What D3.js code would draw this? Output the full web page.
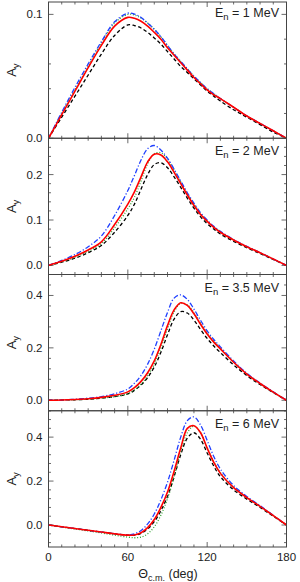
<!DOCTYPE html>
<html>
<head>
<meta charset="utf-8">
<script src="https://d3js.org/d3.v7.min.js"></script>
<style>
  body { margin: 0; background: #fff; }
  text { font-family: "Liberation Sans", Arial, sans-serif; fill: #222; }
</style>
</head>
<body>
<div id="chart"></div>
<script>
// scattering angle (deg)
var theta = [0,10,20,30,40,50,60,65,70,75,80,85,90,95,100,105,110,115,120,125,130,140,150,160,170,180];

// En = 1 MeV
var e1Black = [0,0.017,0.034,0.051,0.068,0.083,0.0915,0.091,0.089,0.0855,0.081,0.076,0.070,0.064,0.058,0.053,0.048,0.043,0.038,0.034,0.030,0.023,0.017,0.011,0.005,0];
var e1Green = [0,0.020,0.039,0.058,0.077,0.093,0.100,0.0995,0.097,0.093,0.088,0.082,0.075,0.068,0.062,0.056,0.050,0.045,0.040,0.036,0.032,0.025,0.018,0.012,0.006,0];
var e1Blue  = [0,0.021,0.041,0.060,0.078,0.094,0.101,0.1003,0.0975,0.093,0.088,0.082,0.075,0.068,0.062,0.056,0.050,0.045,0.040,0.036,0.032,0.025,0.018,0.012,0.006,0];
var e1Red   = [0,0.019,0.038,0.057,0.075,0.0905,0.0976,0.0968,0.0945,0.0905,0.0855,0.080,0.073,0.067,0.061,0.055,0.049,0.044,0.039,0.035,0.032,0.025,0.018,0.012,0.006,0];

// En = 2 MeV
var e2Black = [0,0.007,0.016,0.028,0.044,0.073,0.110,0.135,0.168,0.200,0.222,0.226,0.215,0.195,0.172,0.148,0.126,0.107,0.092,0.080,0.069,0.053,0.039,0.026,0.013,0];
var e2Green = [0,0.008,0.018,0.031,0.048,0.083,0.125,0.150,0.186,0.224,0.246,0.248,0.234,0.210,0.184,0.158,0.135,0.114,0.098,0.085,0.074,0.056,0.041,0.028,0.014,0];
var e2Blue  = [0,0.011,0.024,0.041,0.065,0.110,0.165,0.198,0.232,0.257,0.264,0.254,0.236,0.212,0.186,0.160,0.137,0.116,0.100,0.086,0.075,0.057,0.042,0.028,0.014,0];
var e2Red   = [0,0.009,0.020,0.034,0.052,0.090,0.135,0.162,0.195,0.228,0.245,0.243,0.228,0.205,0.180,0.155,0.132,0.112,0.097,0.084,0.073,0.056,0.041,0.028,0.014,0];

// En = 3.5 MeV
var e3Black = [0,0.001,0.002,0.004,0.008,0.014,0.024,0.038,0.058,0.087,0.127,0.183,0.250,0.310,0.338,0.333,0.306,0.270,0.236,0.207,0.182,0.135,0.094,0.060,0.029,0];
var e3Green = [0,0.001,0.002,0.004,0.008,0.014,0.025,0.040,0.062,0.094,0.138,0.200,0.273,0.338,0.370,0.364,0.334,0.294,0.257,0.225,0.198,0.146,0.101,0.064,0.031,0];
var e3Blue  = [0,0.001,0.004,0.008,0.014,0.025,0.043,0.065,0.095,0.138,0.195,0.265,0.335,0.390,0.402,0.385,0.348,0.305,0.265,0.232,0.204,0.150,0.103,0.066,0.032,0];
var e3Red   = [0,0.001,0.003,0.006,0.011,0.019,0.032,0.048,0.072,0.105,0.150,0.213,0.285,0.345,0.372,0.362,0.330,0.290,0.253,0.222,0.196,0.145,0.100,0.064,0.031,0];

// En = 6 MeV
var e4Black = [0,-0.008,-0.016,-0.024,-0.032,-0.040,-0.046,-0.046,-0.038,-0.018,0.015,0.065,0.130,0.220,0.320,0.395,0.420,0.390,0.328,0.268,0.220,0.160,0.118,0.080,0.040,0];
var e4Green = [0,-0.009,-0.018,-0.027,-0.036,-0.046,-0.055,-0.058,-0.055,-0.040,-0.008,0.045,0.120,0.220,0.335,0.420,0.450,0.420,0.352,0.288,0.238,0.172,0.126,0.086,0.043,0];
var e4Blue  = [0,-0.008,-0.016,-0.024,-0.032,-0.040,-0.045,-0.040,-0.025,0.005,0.050,0.115,0.195,0.295,0.400,0.475,0.492,0.455,0.385,0.312,0.255,0.180,0.130,0.088,0.044,0];
var e4Red   = [0,-0.008,-0.016,-0.024,-0.032,-0.040,-0.046,-0.045,-0.035,-0.012,0.025,0.080,0.150,0.245,0.350,0.440,0.452,0.420,0.350,0.285,0.235,0.170,0.125,0.085,0.043,0];

var energyLabels = ["1", "2", "3.5", "6"];
var yDomains = [[0, 0.11], [-0.02, 0.28], [-0.04, 0.48], [-0.1, 0.52]];
var yMajor = [[0, 0.1], [0, 0.1, 0.2], [0, 0.2, 0.4], [0, 0.2, 0.4]];
var yMinorStep = [0.02, 0.02, 0.04, 0.04];
var xMajor = [0, 60, 120, 180];

var panels = [
  {black: e1Black, green: e1Green, blue: e1Blue, red: e1Red},
  {black: e2Black, green: e2Green, blue: e2Blue, red: e2Red},
  {black: e3Black, green: e3Green, blue: e3Blue, red: e3Red},
  {black: e4Black, green: e4Green, blue: e4Blue, red: e4Red}
];

var W = 300, H = 582;
var left = 48.5, right = 286.5, top0 = 2, bottom = 547;
var ph = (bottom - top0) / 4;

var svg = d3.select("#chart").append("svg")
  .attr("width", W).attr("height", H);

var x = d3.scaleLinear().domain([0, 180]).range([left, right]);

var styles = [
  {key: "black", color: "#000", width: 1.3, dash: "3.5,2.5"},
  {key: "green", color: "#2ca02c", width: 1.3, dash: "1,1.8"},
  {key: "blue",  color: "#1f3fff", width: 1.3, dash: "5,2,1.2,2"},
  {key: "red",   color: "#ff0000", width: 1.6, dash: null}
];

panels.forEach(function(p, i) {
  var y0 = top0 + i * ph, y1 = y0 + ph;
  var y = d3.scaleLinear().domain(yDomains[i]).range([y1, y0]);
  var g = svg.append("g");

  var clipId = "clip" + i;
  g.append("clipPath").attr("id", clipId)
    .append("rect").attr("x", left).attr("y", y0).attr("width", right - left).attr("height", ph);

  // x ticks, inward on top and bottom
  var xMinor = d3.range(0, 181, 10);
  xMinor.forEach(function(v) {
    var len = xMajor.indexOf(v) >= 0 ? 5 : 2.5;
    g.append("line").attr("x1", x(v)).attr("x2", x(v)).attr("y1", y1).attr("y2", y1 - len)
      .attr("stroke", "#444").attr("stroke-width", 0.8);
    g.append("line").attr("x1", x(v)).attr("x2", x(v)).attr("y1", y0).attr("y2", y0 + len)
      .attr("stroke", "#444").attr("stroke-width", 0.8);
  });

  // y ticks, inward on left and right
  var d = yDomains[i];
  var step = yMinorStep[i];
  var yMinor = d3.range(Math.ceil(d[0] / step - 1e-6) * step, d[1] + 1e-9, step);
  yMinor.forEach(function(v) {
    var isMajor = yMajor[i].some(function(m) { return Math.abs(m - v) < 1e-6; });
    var len = isMajor ? 5 : 2.5;
    g.append("line").attr("x1", left).attr("x2", left + len).attr("y1", y(v)).attr("y2", y(v))
      .attr("stroke", "#444").attr("stroke-width", 0.8);
    g.append("line").attr("x1", right).attr("x2", right - len).attr("y1", y(v)).attr("y2", y(v))
      .attr("stroke", "#444").attr("stroke-width", 0.8);
  });

  // y tick labels
  g.selectAll(".ylab").data(yMajor[i]).enter().append("text")
    .attr("x", left - 6).attr("y", function(v) { return y(v) + 4; })
    .attr("text-anchor", "end").attr("font-size", "11.5px")
    .text(d3.format(".1f"));

  // curves
  var line = d3.line()
    .x(function(v, j) { return x(theta[j]); })
    .y(function(v) { return y(v); })
    .curve(d3.curveCatmullRom.alpha(0.5));

  styles.forEach(function(s) {
    g.append("path")
      .attr("d", line(p[s.key]))
      .attr("fill", "none")
      .attr("stroke", s.color)
      .attr("stroke-width", s.width)
      .attr("stroke-dasharray", s.dash)
      .attr("clip-path", "url(#" + clipId + ")");
  });

  // frame
  g.append("rect").attr("x", left).attr("y", y0).attr("width", right - left).attr("height", ph)
    .attr("fill", "none").attr("stroke", "#444").attr("stroke-width", 1);

  // y label
  var yl = g.append("text")
    .attr("transform", "translate(16," + ((y0 + y1) / 2) + ") rotate(-90)")
    .attr("text-anchor", "middle").attr("font-size", "13px");
  yl.append("tspan").text("A");
  yl.append("tspan").attr("font-size", "9.5px").attr("dy", 3).text("y");

  // energy label
  var el = g.append("text")
    .attr("x", 279).attr("y", y0 + (i === 0 ? 15 : 17))
    .attr("text-anchor", "end").attr("font-size", "12.5px");
  el.append("tspan").text("E");
  el.append("tspan").attr("font-size", "9.5px").attr("dy", 3).text("n");
  el.append("tspan").attr("dy", -3).text(" = " + energyLabels[i] + " MeV");
});

// x tick labels
svg.selectAll(".xlab").data(xMajor).enter().append("text")
  .attr("x", function(v) { return x(v); }).attr("y", bottom + 14)
  .attr("text-anchor", "middle").attr("font-size", "11.5px")
  .text(function(v) { return v; });

// x axis title
var xt = svg.append("text")
  .attr("x", 168).attr("y", 578)
  .attr("text-anchor", "middle").attr("font-size", "12.5px");
xt.append("tspan").text("\u0398");
xt.append("tspan").attr("font-size", "9px").attr("dy", 3).text("c.m.");
xt.append("tspan").attr("dy", -3).text(" (deg)");
</script>
</body>
</html>
